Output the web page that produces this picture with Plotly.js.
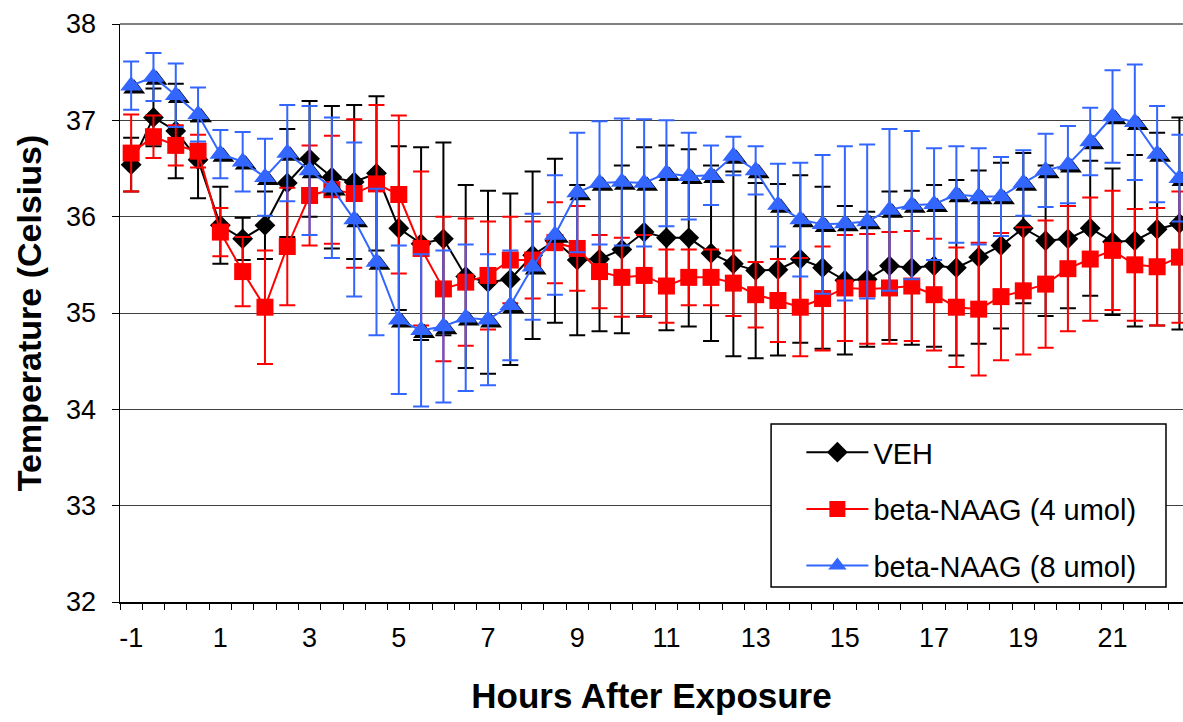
<!DOCTYPE html>
<html><head><meta charset="utf-8">
<script src="https://cdn.plot.ly/plotly-3.0.1.min.js"></script>
<style>body{margin:0;background:#fff}#chart{width:1183px;height:722px}</style>
</head><body><div id="chart"></div>
<script>
const hours = [-1,-0.5,0,0.5,1,1.5,2,2.5,3,3.5,4,4.5,5,5.5,6,6.5,7,7.5,8,8.5,9,9.5,10,10.5,11,11.5,12,12.5,13,13.5,14,14.5,15,15.5,16,16.5,17,17.5,18,18.5,19,19.5,20,20.5,21,21.5,22,22.5];
const tickHours = [-1,1,3,5,7,9,11,13,15,17,19,21];
const tickLabels = ['-1','1','3','5','7','9','11','13','15','17','19','21'];
const seriesNames = ['VEH','beta-NAAG (4 umol)','beta-NAAG (8 umol)'];

const vehMean = [36.54,37.03,36.89,36.59,35.91,35.77,35.91,36.35,36.60,36.41,36.36,36.45,35.88,35.72,35.77,35.38,35.32,35.35,35.60,35.75,35.55,35.56,35.66,35.84,35.78,35.78,35.62,35.51,35.44,35.45,35.56,35.47,35.34,35.35,35.49,35.47,35.49,35.47,35.58,35.70,35.88,35.75,35.77,35.88,35.74,35.75,35.87,35.93];
const vehErr = [0.28,0.30,0.49,0.40,0.40,0.22,0.35,0.56,0.60,0.74,0.80,0.80,0.85,1.00,1.00,0.95,0.95,0.89,0.87,0.85,0.78,0.75,0.87,0.88,0.96,0.92,0.91,0.96,0.91,0.89,0.87,0.84,0.77,0.70,0.77,0.80,0.84,0.91,0.90,0.86,0.78,0.78,0.72,0.70,0.76,0.89,1.00,1.10];

const naag4Mean = [36.66,36.83,36.74,36.68,35.84,35.43,35.06,35.69,36.22,36.28,36.24,36.34,36.23,35.67,35.25,35.32,35.39,35.55,35.55,35.73,35.67,35.43,35.37,35.39,35.28,35.37,35.37,35.31,35.19,35.13,35.06,35.15,35.26,35.25,35.26,35.28,35.19,35.06,35.04,35.17,35.23,35.30,35.46,35.56,35.65,35.50,35.48,35.58];
const naag4Err = [0.40,0.22,0.21,0.17,0.25,0.36,0.59,0.61,0.52,0.56,0.77,0.82,0.82,0.80,0.75,0.66,0.56,0.45,0.40,0.42,0.44,0.38,0.41,0.42,0.38,0.29,0.29,0.34,0.34,0.43,0.51,0.54,0.55,0.57,0.58,0.57,0.58,0.62,0.69,0.66,0.66,0.66,0.65,0.64,0.62,0.58,0.61,0.68];

const naag8Mean = [37.36,37.45,37.26,37.06,36.65,36.57,36.41,36.66,36.48,36.30,35.97,35.53,34.93,34.82,34.86,34.95,34.93,35.08,35.48,35.81,36.25,36.35,36.36,36.35,36.45,36.42,36.43,36.63,36.48,36.12,35.97,35.92,35.93,35.95,36.07,36.12,36.13,36.23,36.21,36.21,36.35,36.48,36.54,36.78,37.04,36.98,36.65,36.40];
const naag8Err = [0.25,0.25,0.33,0.28,0.25,0.31,0.40,0.50,0.67,0.73,0.80,0.76,0.77,0.79,0.79,0.76,0.68,0.57,0.55,0.62,0.62,0.64,0.66,0.66,0.55,0.45,0.31,0.20,0.25,0.43,0.59,0.72,0.80,0.80,0.84,0.77,0.58,0.50,0.50,0.41,0.34,0.38,0.40,0.35,0.48,0.60,0.50,0.45];

const FONT = 'Liberation Sans, Arial, Helvetica, sans-serif';
const XR = [-1.25, 22.58];
const YR = [32, 38];
// pixel offset for marker shadow
const W = 1063, H = 578;
const sdx = 3 * (XR[1]-XR[0]) / W;
const sdy = 3 * (YR[1]-YR[0]) / H;

const traces = [
  {x: hours, y: vehMean, name: seriesNames[0], type: 'scatter', mode: 'lines+markers',
   legendgroup: 'a',
   line: {color: '#000000', width: 2},
   marker: {symbol: 'diamond', size: 16, color: '#000000'},
   error_y: {type: 'data', array: vehErr, visible: true, color: '#000000', thickness: 2, width: 8}},
  {x: hours, y: naag4Mean, name: seriesNames[1], type: 'scatter', mode: 'lines+markers',
   legendgroup: 'b',
   line: {color: '#FF0000', width: 2},
   marker: {symbol: 'square', size: 17, color: '#FF0000'},
   error_y: {type: 'data', array: naag4Err, visible: true, color: '#FF0000', thickness: 2, width: 8}},
  {x: hours, y: naag8Mean, name: 'shadow', type: 'scatter', mode: 'markers', showlegend: false,
   xaxis: 'x2', yaxis: 'y2', hoverinfo: 'skip',
   marker: {symbol: 'triangle-up', size: 19, color: '#000000'}},
  {x: hours, y: naag8Mean, name: seriesNames[2], type: 'scatter', mode: 'lines+markers',
   legendgroup: 'c', xaxis: 'x3', yaxis: 'y3',
   line: {color: '#3366FF', width: 2},
   marker: {symbol: 'triangle-up', size: 19, color: '#3366FF'},
   error_y: {type: 'data', array: naag8Err, visible: true, color: '#3366FF', thickness: 2, width: 8}}
];

const layout = {
  width: 1183, height: 722,
  margin: {l: 120, r: 0, t: 24, b: 120},
  paper_bgcolor: '#ffffff', plot_bgcolor: '#ffffff',
  font: {family: FONT, color: '#000000', size: 26},
  showlegend: true,
  legend: {x: 0.641, y: 0.303, xanchor: 'left', yanchor: 'top', itemwidth: 62,
    bgcolor: 'rgba(0,0,0,0)', borderwidth: 0, tracegroupgap: 16,
    font: {family: FONT, size: 29, color: '#000000'}},
  xaxis: {range: XR, tickmode: 'array', tickvals: tickHours, ticktext: tickLabels,
    ticks: '', showgrid: false, zeroline: false, showline: true, linecolor: '#000000', linewidth: 1.5,
    tickfont: {family: FONT, size: 27}, ticklabelstandoff: 11,
    minor: {tick0: -1.25, dtick: 0.5, ticks: 'outside', ticklen: 6, tickcolor: '#000000', showgrid: false},
    title: {text: '<b>Hours After Exposure</b>', font: {family: FONT, size: 35}, standoff: 31}},
  yaxis: {range: YR, tickvals: [32,33,34,35,36,37,38], ticks: 'outside', ticklen: 7, tickcolor: '#000000',
    showgrid: true, gridcolor: '#404040', gridwidth: 1, zeroline: false,
    showline: true, linecolor: '#000000', linewidth: 1.5,
    tickfont: {family: FONT, size: 27}, ticklabelstandoff: 10,
    title: {text: '<b>Temperature (Celsius)</b>', font: {family: FONT, size: 34}, standoff: 14}},
  xaxis2: {range: [XR[0]-sdx, XR[1]-sdx], overlaying: 'x', visible: false},
  yaxis2: {range: [YR[0]+sdy, YR[1]+sdy], overlaying: 'y', visible: false},
  xaxis3: {range: XR, overlaying: 'x', visible: false},
  yaxis3: {range: YR, overlaying: 'y', visible: false},
  shapes: [
    {type: 'line', xref: 'paper', yref: 'paper', x0: 0, x1: 1, y0: 1, y1: 1, line: {color: '#808080', width: 2}},
    {type: 'rect', xref: 'paper', yref: 'paper', x0: 0.6125, x1: 0.984, y0: 0.0259, y1: 0.308,
     line: {color: '#000000', width: 1.5}, fillcolor: '#ffffff', layer: 'above'}
  ]
};

Plotly.newPlot('chart', traces, layout, {staticPlot: true, displayModeBar: false});
</script>
</body></html>
